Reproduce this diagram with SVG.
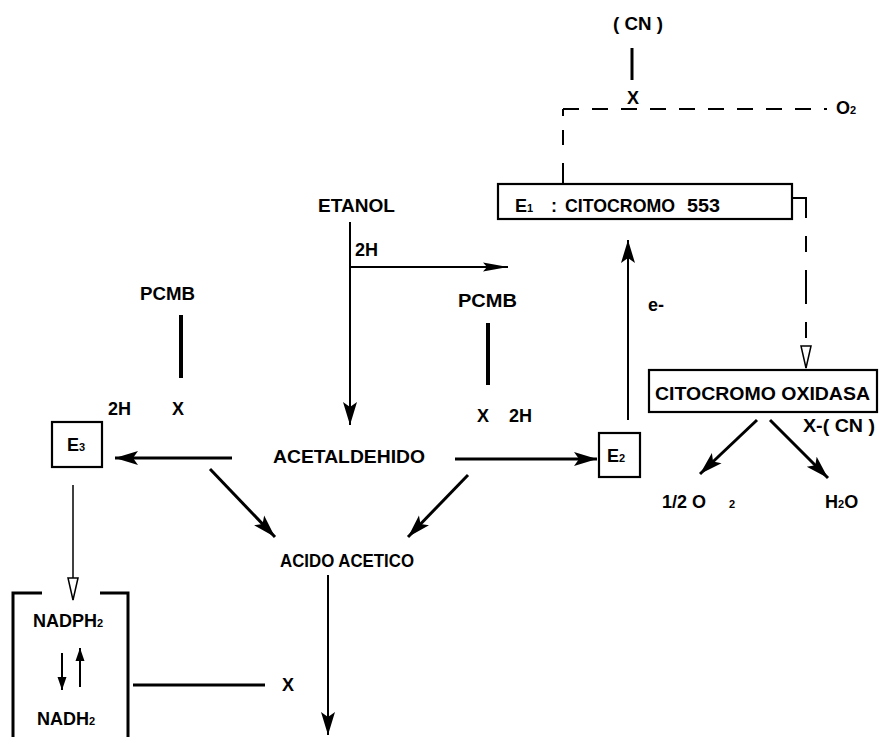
<svg xmlns="http://www.w3.org/2000/svg" width="890" height="737" viewBox="0 0 890 737">
<defs>
<style>
text{font-family:"Liberation Sans",Arial,Helvetica,sans-serif;font-weight:bold;fill:#000;font-size:18px}
.sub{font-size:11px}
.box{fill:none;stroke:#000;stroke-width:2.2}
.ln{fill:none;stroke:#000;stroke-width:2}
.thk{fill:none;stroke:#000;stroke-width:3}
.bar{fill:none;stroke:#000;stroke-width:4}
.thin{fill:none;stroke:#000;stroke-width:1.5}
.dash{fill:none;stroke:#000;stroke-width:2;stroke-dasharray:16 13}
</style>
<marker id="ah" markerUnits="userSpaceOnUse" markerWidth="24" markerHeight="16" viewBox="0 0 24 16" refX="23" refY="8" orient="auto"><path d="M0,1 L23,8 L0,15 L5,8 z" fill="#000"/></marker>
<marker id="ahn" markerUnits="userSpaceOnUse" markerWidth="26" markerHeight="10" viewBox="0 0 26 10" refX="25" refY="5" orient="auto"><path d="M0,0.5 L25,5 L0,9.5 L4,5 z" fill="#000"/></marker>
<marker id="aho" markerUnits="userSpaceOnUse" markerWidth="24" markerHeight="12" viewBox="0 0 24 12" refX="23" refY="6" orient="auto"><path d="M1,1 L23,6 L1,11 z" fill="#fff" stroke="#000" stroke-width="1.5"/></marker>
<marker id="ahs" markerUnits="userSpaceOnUse" markerWidth="14" markerHeight="10" viewBox="0 0 14 10" refX="13" refY="5" orient="auto"><path d="M0,0.5 L13,5 L0,9.5 z" fill="#000"/></marker>
</defs>

<g id="connectors">
  <line class="thk" x1="632" y1="48" x2="632" y2="80"/>
  <path class="dash" d="M563,109 H827"/>
  <path class="ln" d="M563,116 V109"/>
  <path class="ln" d="M563,130 V145 M563,163 V184"/>
  <path class="ln" d="M792,198 H806 V368" style="stroke-dasharray:34 18 16 18" marker-end="url(#aho)"/>
  <line class="thk" x1="757" y1="420" x2="700" y2="474" marker-end="url(#ah)"/>
  <line class="thk" x1="770" y1="420" x2="828" y2="478" marker-end="url(#ah)"/>
  <line class="ln" x1="628" y1="420" x2="628" y2="240" marker-end="url(#ah)"/>
  <line class="thk" x1="455" y1="459" x2="597" y2="459" marker-end="url(#ah)"/>
  <line class="ln" x1="350" y1="222" x2="350" y2="425" marker-end="url(#ah)"/>
  <line class="ln" x1="350" y1="267" x2="508" y2="267" marker-end="url(#ahn)"/>
  <line class="bar" x1="181" y1="315" x2="181" y2="378"/>
  <line class="bar" x1="488" y1="323" x2="488" y2="385"/>
  <line class="thk" x1="232" y1="458" x2="115" y2="458" marker-end="url(#ah)"/>
  <line class="thk" x1="210" y1="469" x2="275" y2="537" marker-end="url(#ah)"/>
  <line class="thk" x1="468" y1="475" x2="408" y2="537" marker-end="url(#ah)"/>
  <line class="ln" x1="328" y1="575" x2="328" y2="735" marker-end="url(#ah)"/>
  <line class="thin" x1="73" y1="485" x2="73" y2="600" marker-end="url(#aho)"/>
  <line class="thk" x1="133" y1="685" x2="265" y2="685"/>
  <line class="ln" x1="62" y1="653" x2="62" y2="690" marker-end="url(#ahs)"/>
  <line class="ln" x1="80" y1="687" x2="80" y2="648" marker-end="url(#ahs)"/>
</g>

<g id="cn-top"><text x="613" y="30" textLength="50" lengthAdjust="spacingAndGlyphs">( CN )</text></g>
<g id="x-top"><text x="627" y="104">X</text></g>
<g id="o2"><text x="836" y="114">O<tspan class="sub">2</tspan></text></g>

<g id="e1">
  <rect class="box" x="498" y="184" width="294" height="35"/>
  <text x="515" y="212">E<tspan class="sub">1</tspan></text>
  <text x="551" y="212">:</text>
  <text x="565" y="212" textLength="110" lengthAdjust="spacingAndGlyphs">CITOCROMO</text>
  <text x="687" y="212" textLength="33" lengthAdjust="spacingAndGlyphs">553</text>
</g>

<g id="oxidasa">
  <rect class="box" x="649" y="370" width="228" height="42"/>
  <text x="655" y="400" textLength="215" lengthAdjust="spacingAndGlyphs">CITOCROMO OXIDASA</text>
</g>
<g id="x-cn"><text x="803" y="432" textLength="72" lengthAdjust="spacingAndGlyphs">X-( CN )</text></g>
<g id="half-o2"><text x="662" y="508">1/2 O</text><text class="sub" x="729" y="508">2</text></g>
<g id="h2o"><text x="825" y="508">H<tspan class="sub">2</tspan>O</text></g>
<g id="e-minus"><text x="648" y="311">e-</text></g>

<g id="e2">
  <rect class="box" x="599" y="433" width="41" height="44"/>
  <text x="607" y="462">E<tspan class="sub">2</tspan></text>
</g>

<g id="etanol"><text x="318" y="212" textLength="77" lengthAdjust="spacingAndGlyphs">ETANOL</text></g>
<g id="h2-top"><text x="355" y="256">2H</text></g>
<g id="pcmb-left"><text x="140" y="300" textLength="55" lengthAdjust="spacingAndGlyphs">PCMB</text></g>
<g id="pcmb-right"><text x="458" y="307" textLength="59" lengthAdjust="spacingAndGlyphs">PCMB</text></g>
<g id="h2-x-left"><text x="108" y="415">2H</text><text x="172" y="415">X</text></g>
<g id="x-h2-right"><text x="477" y="422">X</text><text x="509" y="422">2H</text></g>

<g id="e3">
  <rect class="box" x="52" y="422" width="50" height="45"/>
  <text x="67" y="451">E<tspan class="sub">3</tspan></text>
</g>

<g id="acetaldehido"><text x="273" y="463" textLength="152" lengthAdjust="spacingAndGlyphs">ACETALDEHIDO</text></g>
<g id="acido-acetico"><text x="280" y="567" textLength="134" lengthAdjust="spacingAndGlyphs">ACIDO ACETICO</text></g>

<g id="nadph-box">
  <path class="thk" d="M42,593 H13 V737 M100,593 H128 V737"/>
  <text x="33" y="627">NADPH<tspan class="sub">2</tspan></text>
  <text x="37" y="725">NADH<tspan class="sub">2</tspan></text>
</g>
<g id="x-bottom"><text x="282" y="691">X</text></g>
</svg>
